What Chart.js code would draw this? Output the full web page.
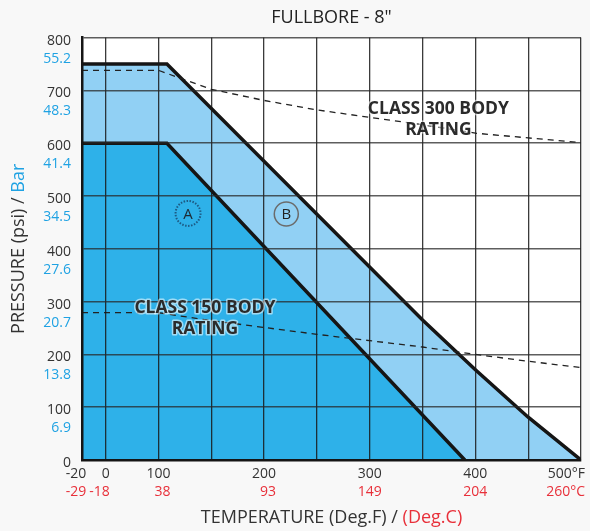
<!DOCTYPE html>
<html>
<head>
<meta charset="utf-8">
<script src="https://cdn.jsdelivr.net/npm/chart.js@4.4.1/dist/chart.umd.min.js"></script>
<style>
  html, body { margin: 0; padding: 0; background: #f8f8f8; }
</style>
</head>
<body>
<canvas id="myChart" width="590" height="531"></canvas>
<script>
// grid lines on the temperature axis (deg F)
const gridTempsF = [-20, 0, 100, 150, 200, 250, 300, 350, 400, 450, 500];
// labelled temperatures
const labelTemps = [-20, 0, 100, 200, 300, 400, 500];
const labelTempsF = ["-20", "0", "100", "200", "300", "400", "500°F"];
const labelTempsC = ["-29", "-18", "38", "93", "149", "204", "260°C"];
// pressure ticks (psi) and the matching bar values
const pressureTicks = [0, 100, 200, 300, 400, 500, 600, 700, 800];
const barLabels = ["", "6.9", "13.8", "20.7", "27.6", "34.5", "41.4", "48.3", "55.2"];

// seat A (inner region)
const seatATemps = [-20, 108, 390];
const seatAPsi = [600, 600, 0];
// seat B (outer region)
const seatBTemps = [-20, 108, 350, 400, 450, 500];
const seatBPsi = [750, 750, 265, 171, 81, 0];

// body ratings (dashed)
const bodyTemps = [-20, 100, 150, 200, 250, 300, 350, 400, 450, 500];
const class150Psi = [279, 279, 264, 251, 238, 226, 214, 200, 187, 175];
const class300Psi = [738, 738, 702, 681, 663, 649, 635, 619, 610, 601];

// the temperature axis is not linear: -20..0 is squeezed, 0..100 is one cell, then 50 deg per cell
function tempToPos(t) {
  if (t <= 0) return ((t + 20) / 20) * 0.448;
  if (t <= 100) return 0.448 + t / 100;
  return 1.448 + (t - 100) / 50;
}

function toPoints(temps, values) {
  return temps.map((t, i) => ({ x: tempToPos(t), y: values[i] }));
}

const FONT = '"Open Sans", "DejaVu Sans", sans-serif';

const extraLabels = {
  id: "extraLabels",
  beforeDraw(chart) {
    const { ctx, chartArea } = chart;
    ctx.save();
    ctx.fillStyle = "#ffffff";
    ctx.fillRect(chartArea.left, chartArea.top, chartArea.right - chartArea.left, chartArea.bottom - chartArea.top);
    ctx.restore();
  },
  afterDraw(chart) {
    const { ctx, chartArea } = chart;
    const x = chart.scales.x;
    const y = chart.scales.y;
    ctx.save();

    // bar values under the psi ticks
    ctx.font = "14px " + FONT;
    ctx.textAlign = "right";
    ctx.textBaseline = "middle";
    ctx.fillStyle = "#1fa2e3";
    pressureTicks.forEach((p, i) => {
      if (barLabels[i]) {
        ctx.fillText(barLabels[i], chartArea.left - 11, y.getPixelForValue(p) + 21);
      }
    });

    // temperature labels, deg C right-aligned with deg F
    labelTemps.forEach((t, i) => {
      const px = x.getPixelForValue(tempToPos(t));
      const w = ctx.measureText(labelTempsF[i]).width;
      let right = px + w / 2;
      if (i === 0) right -= 6;
      if (i === labelTemps.length - 1) right = chart.width - 5;
      ctx.fillStyle = "#333333";
      ctx.fillText(labelTempsF[i], right, chartArea.bottom + 14);
      ctx.fillStyle = "#e8303a";
      ctx.fillText(labelTempsC[i], right, chartArea.bottom + 32);
    });

    // axis titles
    ctx.font = "18px " + FONT;
    ctx.textAlign = "left";
    const xt1 = "TEMPERATURE (Deg.F) / ";
    const xt2 = "(Deg.C)";
    const w1 = ctx.measureText(xt1).width;
    const w2 = ctx.measureText(xt2).width;
    const cx = (chartArea.left + chartArea.right) / 2;
    ctx.fillStyle = "#333333";
    ctx.fillText(xt1, cx - (w1 + w2) / 2, 518);
    ctx.fillStyle = "#e8303a";
    ctx.fillText(xt2, cx - (w1 + w2) / 2 + w1, 518);

    const yt1 = "PRESSURE (psi) / ";
    const yt2 = "Bar";
    const v1 = ctx.measureText(yt1).width;
    const v2 = ctx.measureText(yt2).width;
    ctx.save();
    ctx.translate(19, (chartArea.top + chartArea.bottom) / 2);
    ctx.rotate(-Math.PI / 2);
    ctx.fillStyle = "#333333";
    ctx.fillText(yt1, -(v1 + v2) / 2, 0);
    ctx.fillStyle = "#1fa2e3";
    ctx.fillText(yt2, -(v1 + v2) / 2 + v1, 0);
    ctx.restore();

    // body rating labels
    ctx.font = "bold 17.5px " + FONT;
    ctx.textAlign = "center";
    ctx.lineJoin = "round";
    function haloText(text, tx, ty) {
      ctx.strokeStyle = "rgba(255,255,255,0.55)";
      ctx.lineWidth = 3;
      ctx.strokeText(text, tx, ty);
      ctx.fillStyle = "#2b2b2b";
      ctx.fillText(text, tx, ty);
    }
    const c3x = x.getPixelForValue(tempToPos(365));
    haloText("CLASS 300 BODY", c3x, y.getPixelForValue(665));
    haloText("RATING", c3x, y.getPixelForValue(625));
    const c1x = x.getPixelForValue(tempToPos(144));
    haloText("CLASS 150 BODY", c1x, y.getPixelForValue(288));
    haloText("RATING", c1x, y.getPixelForValue(248));

    // seat markers
    ctx.font = "15px " + FONT;
    const ax = x.getPixelForValue(tempToPos(128));
    const ay = y.getPixelForValue(467);
    ctx.beginPath();
    ctx.setLineDash([1.5, 1.5]);
    ctx.lineWidth = 2;
    ctx.strokeStyle = "#1d5a84";
    ctx.arc(ax, ay, 12.5, 0, Math.PI * 2);
    ctx.stroke();
    ctx.setLineDash([]);
    ctx.fillStyle = "#1e2a33";
    ctx.fillText("A", ax, ay + 1);

    const bx = x.getPixelForValue(tempToPos(221));
    const by = y.getPixelForValue(466);
    ctx.beginPath();
    ctx.lineWidth = 1.5;
    ctx.strokeStyle = "#6b6b6b";
    ctx.arc(bx, by, 12, 0, Math.PI * 2);
    ctx.stroke();
    ctx.fillStyle = "#222222";
    ctx.fillText("B", bx, by + 1);

    ctx.restore();
  },
};

const ctx = document.getElementById("myChart").getContext("2d");
new Chart(ctx, {
  type: "line",
  data: {
    datasets: [
      {
        label: "Class 300 body",
        data: toPoints(bodyTemps, class300Psi),
        borderColor: "#222222",
        borderWidth: 1.3,
        borderDash: [6, 5],
        pointRadius: 0,
        fill: false,
      },
      {
        label: "Class 150 body",
        data: toPoints(bodyTemps, class150Psi),
        borderColor: "#222222",
        borderWidth: 1.3,
        borderDash: [6, 5],
        pointRadius: 0,
        fill: false,
      },
      {
        label: "Seat A",
        data: toPoints(seatATemps, seatAPsi),
        borderColor: "#151515",
        borderWidth: 3.5,
        pointRadius: 0,
        fill: "origin",
        backgroundColor: "rgb(46,177,233)",
      },
      {
        label: "Seat B",
        data: toPoints(seatBTemps, seatBPsi),
        borderColor: "#151515",
        borderWidth: 3.5,
        pointRadius: 0,
        fill: "origin",
        backgroundColor: "rgb(145,208,244)",
      },
    ],
  },
  options: {
    responsive: false,
    animation: false,
    events: [],
    layout: { padding: { top: 1, right: 9, left: 0, bottom: 0 } },
    plugins: {
      legend: { display: false },
      tooltip: { enabled: false },
      title: {
        display: true,
        text: 'FULLBORE - 8"',
        color: "#222222",
        font: { family: FONT, size: 18, weight: "normal" },
        padding: { top: 6, bottom: 9 },
        fullSize: false,
      },
    },
    scales: {
      x: {
        type: "linear",
        min: 0,
        max: tempToPos(500),
        afterBuildTicks: (scale) => {
          scale.ticks = gridTempsF.map((t) => ({ value: tempToPos(t) }));
        },
        afterFit: (scale) => {
          scale.height = 71;
        },
        ticks: { display: false },
        grid: { color: "rgba(25,25,25,0.85)", lineWidth: 1.3, drawTicks: false, z: 1 },
        border: { display: true, color: "#151515", width: 2.5, z: 2 },
      },
      y: {
        min: 0,
        max: 800,
        afterFit: (scale) => {
          scale.width = 82;
        },
        ticks: {
          stepSize: 100,
          color: "#333333",
          font: { family: FONT, size: 14 },
          padding: 11,
          labelOffset: 3,
        },
        grid: { color: "rgba(40,40,40,0.75)", lineWidth: 1.5, drawTicks: false, z: 1 },
        border: { display: true, color: "#151515", width: 2.5, z: 2 },
      },
    },
  },
  plugins: [extraLabels],
});
</script>
</body>
</html>
